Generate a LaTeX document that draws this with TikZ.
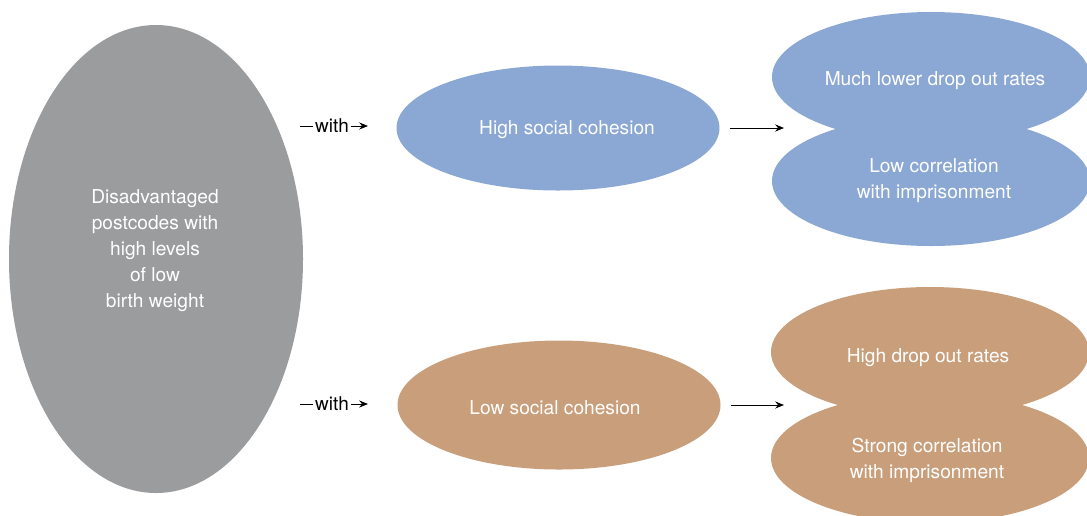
\documentclass[tikz,border=0pt]{standalone}
\usepackage{fontspec}
\setmainfont{TeX Gyre Heros}
\usetikzlibrary{shapes.geometric,arrows.meta}

\definecolor{greyblob}{HTML}{9B9C9E}
\definecolor{blueblob}{HTML}{8BA7D4}
\definecolor{brownblob}{HTML}{C99F7B}

\begin{document}
\begin{tikzpicture}[x=0.02cm, y=-0.02cm,
  blob/.style 2 args={ellipse, draw=none, inner sep=0pt,
    minimum width={#1*0.02cm}, minimum height={#2*0.02cm}},
  blobtext/.style={text=white, align=center, inner sep=0pt,
    font=\fontsize{10.9}{14.8}\selectfont},
  lbl/.style={inner sep=1pt, font=\fontsize{10.8}{13}\selectfont},
  arr/.style={-{Stealth[length=5pt,width=4pt]}, line width=0.5pt}]

%─────────────
% Frame
%─────────────
\useasboundingbox (0,0) rectangle (1087,515);
\clip (0,0) rectangle (1087,515);

%─────────────
% Left: the postcodes
%─────────────
\node[blob={294}{468}, fill=greyblob] (postcodes) at (156,259) {};
\node[blobtext] (postcodestxt) at (155,251)
  {Disadvantaged\\ postcodes with\\ high levels\\ of low\\ birth weight};

%─────────────
% Middle: cohesion
%─────────────
\node[blob={323}{125}, fill=blueblob]  (highcoh) at (558,128) {};
\node[blob={323}{129}, fill=brownblob] (lowcoh)  at (559,405) {};
\node[blobtext] (highcohtxt) at (567,130) {High social cohesion};
\node[blobtext] (lowcohtxt)  at (555,408) {Low social cohesion};

%─────────────
% Right: outcomes (two ellipses each, run together)
%─────────────
\node[blob={318}{130}, fill=blueblob] (lowcorr) at (931,181) {};
\node[blob={318}{130}, fill=blueblob] (lowdrop) at (931,77) {};
\node[blobtext] (lowdroptxt) at (935,81) {Much lower drop out rates};
\node[blobtext] (lowcorrtxt) at (934,181) {Low correlation\\ with imprisonment};

\node[blob={318}{130}, fill=brownblob] (strongcorr) at (930,458) {};
\node[blob={318}{130}, fill=brownblob] (highdrop) at (930,352) {};
\node[blobtext] (highdroptxt)   at (928,358) {High drop out rates};
\node[blobtext] (strongcorrtxt) at (927,460) {Strong correlation\\ with imprisonment};

%─────────────
% "with" links
%─────────────
\node[lbl] (withA) at (332,126) {with};
\node[lbl] (withB) at (332,404) {with};
\coordinate (withAin)  at (300,126);
\coordinate (withAout) at (368,126);
\coordinate (withBin)  at (300,404);
\coordinate (withBout) at (368,404);
\draw[line width=0.5pt] (withAin) -- (withA.west);
\draw[arr] (withA.east) -- (withAout);
\draw[line width=0.5pt] (withBin) -- (withB.west);
\draw[arr] (withB.east) -- (withBout);

%─────────────
% Cohesion to outcomes
%─────────────
\coordinate (goodend) at (784,128);
\coordinate (badend)  at (784,405);
\draw[arr] ([xshift=10*0.02cm]highcoh.east) -- (goodend);
\draw[arr] ([xshift=10*0.02cm]lowcoh.east) -- (badend);

\end{tikzpicture}
\end{document}
